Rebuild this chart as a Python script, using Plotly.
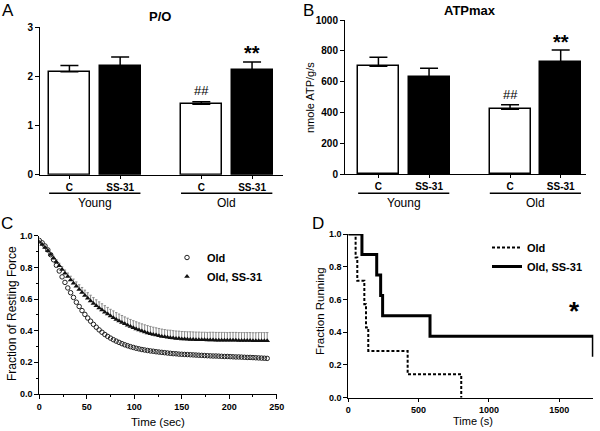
import plotly.graph_objects as go

# ---------------- data ----------------
bar_cats = ["C", "SS-31", "C", "SS-31"]
bar_pos = [0, 1, 2.6, 3.6]
po_vals = [2.09, 2.20, 1.43, 2.12]
po_err = [0.13, 0.19, 0.05, 0.17]
atp_vals = [700, 632, 421, 726]
atp_err = [58, 55, 30, 79]
bar_colors = ["white", "black", "white", "black"]

time_c = list(range(0, 241, 3))
old_force = [0.970, 0.955, 0.935, 0.910, 0.880, 0.848, 0.813, 0.777, 0.740, 0.705,
             0.670, 0.640, 0.610, 0.580, 0.553, 0.527, 0.503, 0.480, 0.460, 0.440,
             0.422, 0.405, 0.390, 0.376, 0.364, 0.353, 0.343, 0.334, 0.326, 0.318,
             0.311, 0.305, 0.299, 0.294, 0.289, 0.285, 0.281, 0.278, 0.275, 0.272,
             0.270, 0.267, 0.265, 0.263, 0.261, 0.259, 0.257, 0.255, 0.254, 0.252,
             0.251, 0.250, 0.249, 0.248, 0.247, 0.246, 0.245, 0.244, 0.243, 0.242,
             0.241, 0.240, 0.240, 0.239, 0.238, 0.237, 0.237, 0.236, 0.235, 0.234,
             0.234, 0.233, 0.232, 0.231, 0.231, 0.230, 0.229, 0.228, 0.227, 0.226,
             0.225]
ss_force = [0.960, 0.945, 0.925, 0.905, 0.882, 0.858, 0.834, 0.810, 0.786, 0.763,
            0.742, 0.720, 0.700, 0.680, 0.660, 0.641, 0.622, 0.605, 0.588, 0.572,
            0.557, 0.543, 0.530, 0.517, 0.505, 0.493, 0.482, 0.471, 0.461, 0.452,
            0.443, 0.434, 0.426, 0.418, 0.411, 0.404, 0.398, 0.392, 0.386, 0.381,
            0.376, 0.372, 0.368, 0.364, 0.361, 0.358, 0.356, 0.353, 0.351, 0.350,
            0.348, 0.347, 0.346, 0.345, 0.344, 0.343, 0.343, 0.342, 0.342, 0.341,
            0.341, 0.341, 0.340, 0.340, 0.340, 0.340, 0.339, 0.339, 0.339, 0.339,
            0.338, 0.338, 0.338, 0.338, 0.338, 0.337, 0.337, 0.337, 0.337, 0.337,
            0.337]
ss_err = [0.004, 0.005, 0.006, 0.008, 0.010, 0.012, 0.014, 0.016, 0.018, 0.020,
          0.022, 0.024, 0.026, 0.028, 0.030, 0.032, 0.034, 0.035, 0.036, 0.037,
          0.038, 0.039, 0.040, 0.041, 0.042, 0.042, 0.043, 0.043, 0.044, 0.044,
          0.044, 0.045, 0.045, 0.045, 0.045, 0.045, 0.045, 0.045, 0.046, 0.046,
          0.046, 0.046, 0.046, 0.046, 0.046, 0.046, 0.047, 0.047, 0.047, 0.047,
          0.047, 0.047, 0.047, 0.048, 0.048, 0.048, 0.048, 0.048, 0.048, 0.048,
          0.049, 0.049, 0.049, 0.049, 0.049, 0.049, 0.049, 0.050, 0.050, 0.050,
          0.050, 0.050, 0.050, 0.050, 0.050, 0.050, 0.050, 0.051, 0.051, 0.051,
          0.051]

old_run_t = [0, 52, 64, 114, 126, 142, 422, 803]
old_run_f = [1.0, 0.857, 0.714, 0.571, 0.429, 0.286, 0.143, 0.0]
ss_run_t = [0, 97, 202, 230, 244, 581, 1742]
ss_run_f = [1.0, 0.875, 0.75, 0.625, 0.5, 0.375, 0.25]

# ---------------- figure ----------------
W, H = 600, 431
FONT = "Arial, Liberation Sans, sans-serif"


def px(x):
    return x / W


def py(y):
    return 1 - y / H


fig = go.Figure()

# Panel A
fig.add_trace(go.Bar(x=bar_pos, y=po_vals, width=0.81,
                     marker=dict(color=bar_colors, line=dict(color="black", width=1.5)),
                     error_y=dict(type="data", symmetric=False, array=po_err,
                                  arrayminus=[0] * 4, color="black", thickness=1.5, width=9),
                     xaxis="x", yaxis="y", showlegend=False))
# Panel B
fig.add_trace(go.Bar(x=bar_pos, y=atp_vals, width=0.81,
                     marker=dict(color=bar_colors, line=dict(color="black", width=1.5)),
                     error_y=dict(type="data", symmetric=False, array=atp_err,
                                  arrayminus=[0] * 4, color="black", thickness=1.5, width=9),
                     xaxis="x2", yaxis="y2", showlegend=False))
# Panel C
fig.add_trace(go.Scatter(x=time_c, y=old_force, mode="markers", name="Old",
                         marker=dict(symbol="circle-open", size=4.5, color="#222",
                                     line=dict(width=1, color="#222")),
                         xaxis="x3", yaxis="y3", legend="legend"))
fig.add_trace(go.Scatter(x=time_c, y=ss_force, mode="markers", name="Old, SS-31",
                         marker=dict(symbol="triangle-up", size=5, color="#111"),
                         error_y=dict(type="data", symmetric=False, array=ss_err,
                                      arrayminus=[0] * len(ss_err), color="#8a8a8a",
                                      thickness=1, width=1.2),
                         xaxis="x3", yaxis="y3", legend="legend"))
# Panel D
fig.add_trace(go.Scatter(x=old_run_t, y=old_run_f, mode="lines", name="Old",
                         line=dict(shape="hv", color="black", width=2, dash="3px,2px"),
                         xaxis="x4", yaxis="y4", legend="legend2"))
fig.add_trace(go.Scatter(x=ss_run_t, y=ss_run_f, mode="lines", name="Old, SS-31",
                         line=dict(shape="hv", color="black", width=3),
                         xaxis="x4", yaxis="y4", legend="legend2"))

axis_common = dict(showline=True, linecolor="black", linewidth=1, ticks="outside",
                   ticklen=4, tickwidth=1, tickcolor="black", showgrid=False,
                   zeroline=False, mirror=False, automargin=False,
                   tickfont=dict(family=FONT, size=10, color="black", weight="bold"))

bar_x = dict(axis_common, tickvals=bar_pos, ticktext=bar_cats, ticklen=3)
small_tick = dict(family=FONT, size=9, color="black", weight="bold")

fig.update_layout(
    width=W, height=H, margin=dict(l=0, r=0, t=0, b=0, autoexpand=False),
    paper_bgcolor="white", plot_bgcolor="white",
    font=dict(family=FONT, color="black"),
    bargap=0,
    xaxis=dict(bar_x, domain=[px(40), px(283)], range=[-0.58, 4.21], anchor="y"),
    yaxis=dict(axis_common, domain=[py(174.7), py(27)], range=[0, 3],
               tickvals=[0, 1, 2, 3], anchor="x"),
    xaxis2=dict(bar_x, domain=[px(345), px(586)], range=[-0.66, 4.1], anchor="y2"),
    yaxis2=dict(axis_common, domain=[py(174.3), py(20)], range=[0, 1000],
                tickvals=[0, 200, 400, 600, 800, 1000], anchor="x2"),
    xaxis3=dict(axis_common, domain=[px(39.3), px(276.7)], range=[0, 250],
                tickvals=[0, 50, 100, 150, 200, 250], anchor="y3", tickfont=small_tick,
                minor=dict(ticks="outside", ticklen=2, dtick=25, tickcolor="black")),
    yaxis3=dict(axis_common, domain=[py(394), py(235.7)], range=[0, 1.0],
                tickvals=[0, 0.2, 0.4, 0.6, 0.8, 1.0], tickformat=".1f", anchor="x3",
                tickfont=small_tick,
                minor=dict(ticks="outside", ticklen=2, dtick=0.1, tickcolor="black")),
    xaxis4=dict(axis_common, domain=[px(348.3), px(593.3)], range=[0, 1742],
                tickvals=[0, 500, 1000, 1500], anchor="y4", tickfont=small_tick,
                ticklen=3),
    yaxis4=dict(axis_common, domain=[py(397.7), py(234)], range=[0, 1.0],
                tickvals=[0, 0.2, 0.4, 0.6, 0.8, 1.0], tickformat=".1f", anchor="x4",
                tickfont=small_tick),
    legend=dict(x=px(167), y=py(243), xanchor="left", yanchor="top",
                bgcolor="rgba(0,0,0,0)", tracegroupgap=0, itemwidth=30,
                font=dict(family=FONT, size=11, color="black", weight="bold")),
    legend2=dict(x=px(487), y=py(233), xanchor="left", yanchor="top",
                 bgcolor="rgba(0,0,0,0)", tracegroupgap=0, itemwidth=30,
                 font=dict(family=FONT, size=11, color="black", weight="bold")),
)

ann = []


def text(x, y, s, size, bold=False, angle=0, xanchor="center"):
    ann.append(dict(x=px(x), y=py(y), xref="paper", yref="paper", text=s,
                    showarrow=False, textangle=angle, xanchor=xanchor, yanchor="middle",
                    font=dict(family=FONT, size=size, color="black",
                              weight="bold" if bold else "normal")))


# panel letters
text(8, 11, "A", 17)
text(308, 10, "B", 17)
text(7, 223, "C", 17)
text(318, 223, "D", 17)
# panel titles
text(160, 17, "P/O", 13, bold=True)
text(470, 11, "ATPmax", 13, bold=True)
# axis titles
text(310, 98, "nmole ATP/g/s", 11, angle=-90)
text(12, 314, "Fraction of Resting Force", 12, angle=-90)
text(320, 311, "Fraction Running", 11.5, angle=-90)
text(158, 422, "Time (sec)", 11.5)
text(473, 421, "Time (s)", 11)

# group labels and underlines (data-anchored)
groups = ["Young", "Old"]
group_centers = [0.5, 3.1]
shapes = []
for xa, grp_y in (("x", 193.3), ("x2", 193.3)):
    for g, c in zip(groups, group_centers):
        shapes.append(dict(type="line", xref=xa, yref="paper", x0=c - 0.9, x1=c + 0.9,
                           y0=py(grp_y), y1=py(grp_y), line=dict(color="black", width=1.5)))
        ann.append(dict(x=c, y=py(202.5), xref=xa, yref="paper", text=g, showarrow=False,
                        yanchor="middle", font=dict(family=FONT, size=12, color="black")))

# significance markers
sig_a = [("##", bar_pos[2], 1.72, 13, False), ("**", bar_pos[3], 2.47, 20, True)]
for s, xv, yv, sz, b in sig_a:
    ann.append(dict(x=xv, y=yv, xref="x", yref="y", text=s, showarrow=False,
                    font=dict(family=FONT, size=sz, color="black",
                              weight="bold" if b else "normal")))
sig_b = [("##", bar_pos[2], 520, 13, False), ("**", bar_pos[3], 860, 20, True)]
for s, xv, yv, sz, b in sig_b:
    ann.append(dict(x=xv, y=yv, xref="x2", yref="y2", text=s, showarrow=False,
                    font=dict(family=FONT, size=sz, color="black",
                              weight="bold" if b else "normal")))
ann.append(dict(x=1611, y=0.53, xref="x4", yref="y4", text="*", showarrow=False,
                font=dict(family=FONT, size=26, color="black", weight="bold")))

fig.update_layout(annotations=ann, shapes=shapes)
fig.write_html("out.html", config={"displayModeBar": False},
               post_script="document.body.style.margin='0px';document.body.style.overflow='hidden';")
